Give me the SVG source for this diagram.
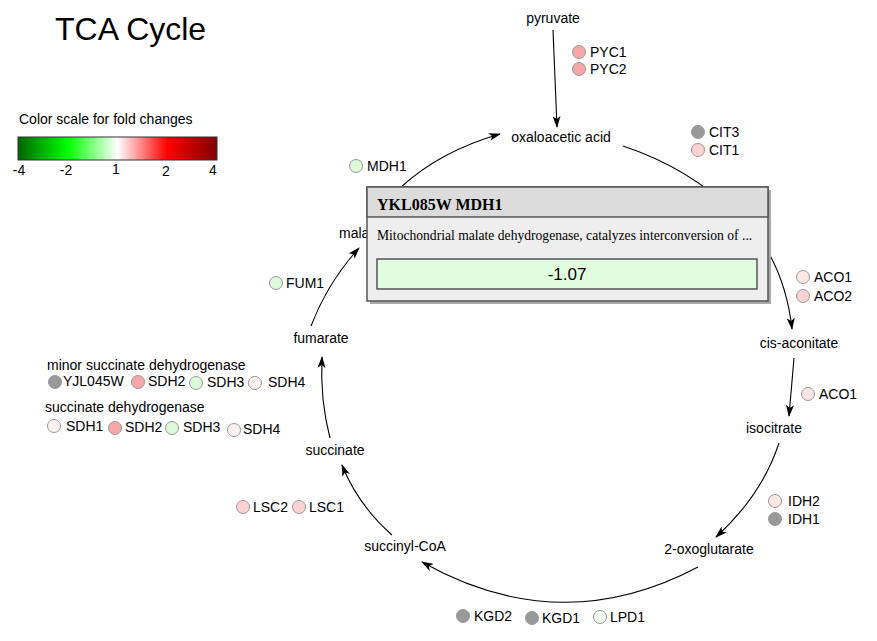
<svg xmlns="http://www.w3.org/2000/svg" width="877" height="641" viewBox="0 0 877 641">
<defs>
<linearGradient id="scale" x1="0" y1="0" x2="1" y2="0">
<stop offset="0" stop-color="#006400"/>
<stop offset="0.25" stop-color="#00ff00"/>
<stop offset="0.5" stop-color="#ffffff"/>
<stop offset="0.75" stop-color="#ff0000"/>
<stop offset="1" stop-color="#800000"/>
</linearGradient>
<marker id="ah" viewBox="0 0 12 8" refX="11" refY="4" markerWidth="12" markerHeight="8" markerUnits="userSpaceOnUse" orient="auto">
<path d="M0,0 L12,4 L0,8 L3,4 z" fill="#000"/>
</marker>
</defs>
<style>
text{font-family:"Liberation Sans",Arial,sans-serif;fill:#000}
.met{font-size:14px;text-anchor:middle}
.gl{font-size:14px}
.g circle{stroke:#999;stroke-width:1}
.conn path{fill:none;stroke:#000;stroke-width:1.1;marker-end:url(#ah)}
.gray{fill:#999}
.p1{fill:#f6a8a8}
.p2{fill:#fcd2d2}
.p3{fill:#fde6e6}
.p4{fill:#fdf2f2}
.g1{fill:#dcf9dc}
.g2{fill:#f3fcf3}
</style>
<rect width="877" height="641" fill="#fff"/>
<text x="55" y="40" style="font-size:32px">TCA Cycle</text>
<g id="legend">
<text x="19" y="124" style="font-size:14px">Color scale for fold changes</text>
<rect x="18" y="137" width="199" height="23" fill="url(#scale)" stroke="#333" stroke-width="1"/>
<g style="font-size:14px;text-anchor:middle">
<text x="19" y="175">-4</text>
<text x="66" y="175">-2</text>
<text x="116" y="174">1</text>
<text x="166" y="176">2</text>
<text x="213" y="175">4</text>
</g>
</g>
<g class="conn" id="connectors">
<path d="M553,30 L557,127"/>
<path d="M400,188 Q440,151 500,134"/>
<path d="M623,146 Q690,168 738,216"/>
<path d="M758,236 Q786,275 792,329"/>
<path d="M794,358 L789,416"/>
<path d="M779,443 Q762,495 716,537"/>
<path d="M698,567 Q560,640 422,562"/>
<path d="M392,535 Q358,505 342,465"/>
<path d="M330,438 Q320,400 322,357"/>
<path d="M311,326 Q328,282 359,248"/>
</g>
<g id="metabolites">
<g id="m-pyruvate"><text class="met" x="553" y="23">pyruvate</text></g>
<g id="m-oaa"><text class="met" x="561" y="142">oxaloacetic acid</text></g>
<g id="m-citrate"><text class="met" x="749" y="234">citrate</text></g>
<g id="m-cisaconitate"><text class="met" x="799" y="348">cis-aconitate</text></g>
<g id="m-isocitrate"><text class="met" x="774" y="433">isocitrate</text></g>
<g id="m-oxoglutarate"><text class="met" x="709" y="554">2-oxoglutarate</text></g>
<g id="m-succinylcoa"><text class="met" x="405" y="551">succinyl-CoA</text></g>
<g id="m-succinate"><text class="met" x="335" y="455">succinate</text></g>
<g id="m-fumarate"><text class="met" x="321" y="343">fumarate</text></g>
<g id="m-malate"><text class="met" x="360" y="238">malate</text></g>
</g>
<g id="genes" class="g">
<g id="PYC1"><circle cx="579" cy="52" r="6.5" class="p1"/><text class="gl" x="590" y="57">PYC1</text></g>
<g id="PYC2"><circle cx="579" cy="69" r="6.5" class="p1"/><text class="gl" x="590" y="74">PYC2</text></g>
<g id="CIT3"><circle cx="698" cy="132" r="6.5" class="gray"/><text class="gl" x="709" y="137">CIT3</text></g>
<g id="CIT1"><circle cx="698" cy="150" r="6.5" class="p2"/><text class="gl" x="709" y="155">CIT1</text></g>
<g id="MDH1"><circle cx="356" cy="166" r="6.5" class="g1"/><text class="gl" x="367" y="171">MDH1</text></g>
<g id="ACO1a"><circle cx="803" cy="277" r="6.5" class="p3"/><text class="gl" x="814" y="282">ACO1</text></g>
<g id="ACO2"><circle cx="803" cy="296" r="6.5" class="p2"/><text class="gl" x="814" y="301">ACO2</text></g>
<g id="ACO1b"><circle cx="808" cy="394" r="6.5" class="p3"/><text class="gl" x="819" y="399">ACO1</text></g>
<g id="IDH2"><circle cx="775" cy="501" r="6.5" class="p3"/><text class="gl" x="788" y="506">IDH2</text></g>
<g id="IDH1"><circle cx="775" cy="519" r="6.5" class="gray"/><text class="gl" x="788" y="524">IDH1</text></g>
<g id="KGD2"><circle cx="463" cy="616" r="6.5" class="gray"/><text class="gl" x="474" y="621">KGD2</text></g>
<g id="KGD1"><circle cx="532" cy="618" r="6.5" class="gray"/><text class="gl" x="542" y="623">KGD1</text></g>
<g id="LPD1"><circle cx="600" cy="617" r="6.5" class="g2"/><text class="gl" x="610" y="622">LPD1</text></g>
<g id="LSC2"><circle cx="243" cy="507" r="6.5" class="p2"/><text class="gl" x="253" y="512">LSC2</text></g>
<g id="LSC1"><circle cx="299" cy="507" r="6.5" class="p2"/><text class="gl" x="309" y="512">LSC1</text></g>
<g id="FUM1"><circle cx="276" cy="283" r="6.5" class="g1"/><text class="gl" x="286" y="288">FUM1</text></g>
<g id="minorSDH">
<text class="gl" x="47" y="370">minor succinate dehydrogenase</text>
<circle cx="55" cy="382" r="6.5" class="gray"/><text class="gl" x="63" y="386">YJL045W</text>
<circle cx="138" cy="382" r="6.5" class="p1"/><text class="gl" x="148" y="386">SDH2</text>
<circle cx="196" cy="383" r="6.5" class="g1"/><text class="gl" x="207" y="387">SDH3</text>
<circle cx="255" cy="383" r="6.5" class="p4"/><text class="gl" x="268" y="387">SDH4</text>
</g>
<g id="SDH">
<text class="gl" x="45" y="412">succinate dehydrogenase</text>
<circle cx="54" cy="426" r="6.5" class="p4"/><text class="gl" x="66" y="431">SDH1</text>
<circle cx="115" cy="428" r="6.5" class="p1"/><text class="gl" x="125" y="432">SDH2</text>
<circle cx="172" cy="428" r="6.5" class="g1"/><text class="gl" x="183" y="432">SDH3</text>
<circle cx="234" cy="430" r="6.5" class="p4"/><text class="gl" x="243" y="434">SDH4</text>
</g>
</g>
<g id="popup">
<rect x="370" y="190" width="401" height="114" fill="#aaa"/>
<rect x="367" y="187" width="401" height="114" fill="#eeeeee" stroke="#555" stroke-width="1.5"/>
<rect x="367" y="187" width="401" height="30" fill="#dcdcdc" stroke="#555" stroke-width="1.5"/>
<text x="377" y="210" style="font-family:'Liberation Serif','Times New Roman',serif;font-weight:bold;font-size:16px">YKL085W MDH1</text>
<text x="377" y="240" style="font-family:'Liberation Serif','Times New Roman',serif;font-size:13.6px">Mitochondrial malate dehydrogenase, catalyzes interconversion of ...</text>
<rect x="377" y="259" width="380" height="30" fill="#e0fde0" stroke="#555" stroke-width="1.5"/>
<text x="567" y="280" style="font-size:17px;text-anchor:middle">-1.07</text>
</g>
</svg>
